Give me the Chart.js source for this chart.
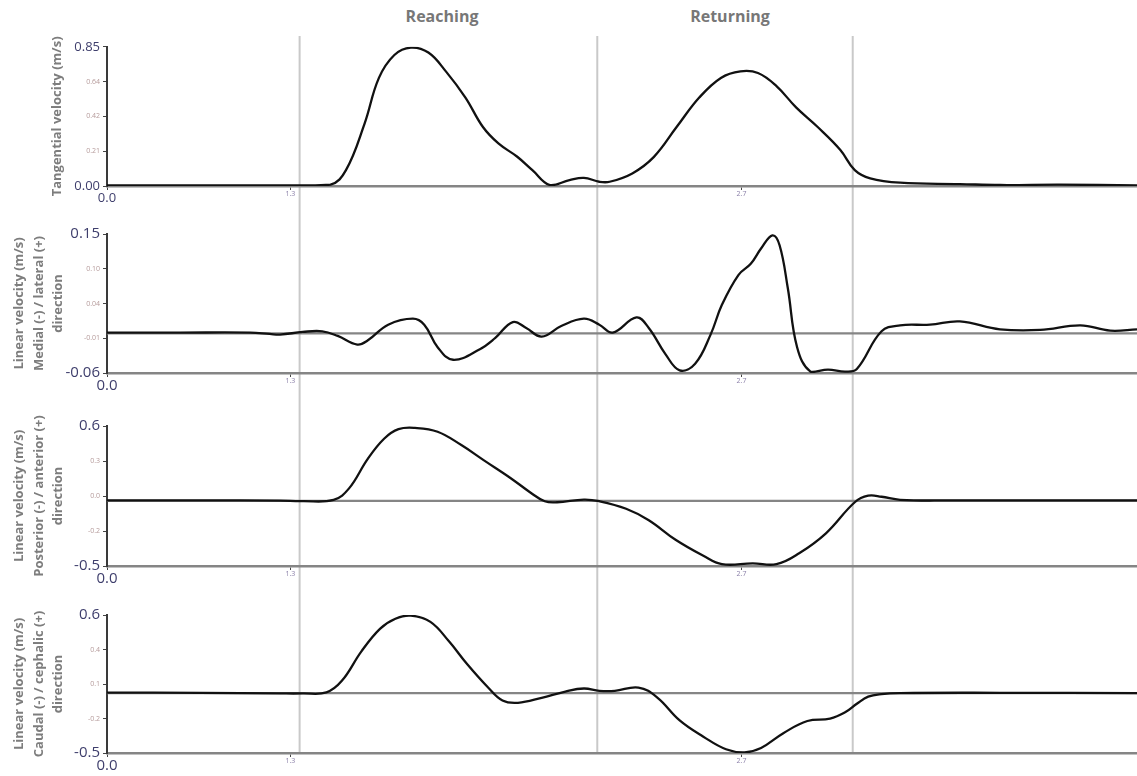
<!DOCTYPE html>
<html>
<head>
<meta charset="utf-8">
<script src="https://cdn.jsdelivr.net/npm/chart.js@4.4.0/dist/chart.umd.min.js"></script>
<style>
  html, body { margin: 0; padding: 0; background: #fff; overflow: hidden; }
  #wrap { position: relative; width: 1137px; height: 776px; font-family: 'Open Sans', sans-serif; }
  #wrap canvas { position: absolute; left: 0; }
  .phase { position: absolute; top: 5px; font-weight: 700; font-size: 16px; color: #777; transform: translateX(-50%); }
</style>
</head>
<body>
<div id="wrap">
  <canvas id="bounds" style="top:36px; z-index:0" width="1137" height="717"></canvas>
  <canvas id="chartjs-0" style="top:36px; z-index:1" width="1137" height="172"></canvas>
  <canvas id="chartjs-1" style="top:222px; z-index:1" width="1137" height="173"></canvas>
  <canvas id="chartjs-2" style="top:414px; z-index:1" width="1137" height="174"></canvas>
  <canvas id="chartjs-3" style="top:603px; z-index:1" width="1137" height="172"></canvas>
  <div class="phase" style="left:442px">Reaching</div>
  <div class="phase" style="left:730px">Returning</div>
</div>
<script>
/* time is given as % of the recording (0 - 100) */

/* phase borders: start reach, end reach / start return, end return */
var phaseBounds = [18.7, 47.6, 72.4];

/* x axis ticks (the labels the original software printed) */
var xTickVals = [0, 17.8, 61.6];
var xTickLabels = ["0.0", "1.3", "2.7"];

/* Panel 1 - tangential velocity */
var tanTime = [0, 9.0, 17.8, 21.7, 23.2, 25.0, 26.4, 27.9, 29.5, 31.2, 32.9, 34.8, 36.5, 38.0, 39.8, 41.3, 43.0, 44.9, 46.3, 47.8, 48.8, 51.0, 53.1, 55.3, 57.5, 59.6, 61.5, 63.2, 65.0, 66.9, 69.0, 71.2, 72.6, 74.1, 77.0, 82.8, 86.7, 92.5, 100];
var tanVel = [0.004, 0.004, 0.004, 0.008, 0.097, 0.38, 0.66, 0.80, 0.845, 0.815, 0.70, 0.54, 0.36, 0.26, 0.18, 0.097, 0.006, 0.036, 0.05, 0.026, 0.026, 0.077, 0.178, 0.36, 0.54, 0.66, 0.70, 0.69, 0.61, 0.48, 0.36, 0.22, 0.097, 0.047, 0.02, 0.012, 0.006, 0.008, 0.004];
var tanTicks = [0, 0.2125, 0.425, 0.6375, 0.85];
var tanTickLabels = ["0.00", "0.21", "0.42", "0.64", "0.85"];

/* Panel 2 - medial (-) / lateral (+) */
var mlTime = [0, 7.1, 13.9, 15.8, 16.8, 19.0, 20.9, 22.4, 24.3, 25.3, 27.3, 29.7, 30.8, 32.1, 33.6, 36.2, 37.7, 39.4, 40.7, 42.2, 44.1, 46.3, 47.8, 49.1, 51.4, 52.6, 54.2, 55.6, 57.1, 58.6, 59.7, 61.3, 62.5, 63.5, 64.6, 65.3, 66.1, 67.0, 68.3, 70.0, 71.7, 72.8, 75.2, 77.0, 79.9, 82.8, 86.7, 90.6, 94.5, 97.4, 100];
var mlVel = [0.001, 0.001, 0.001, -0.001, -0.002, 0.002, 0.003, -0.004, -0.017, -0.011, 0.013, 0.022, 0.013, -0.021, -0.040, -0.024, -0.007, 0.017, 0.008, -0.005, 0.011, 0.022, 0.013, 0.001, 0.024, 0.008, -0.031, -0.056, -0.046, -0.002, 0.043, 0.088, 0.105, 0.128, 0.148, 0.133, 0.068, -0.021, -0.058, -0.055, -0.058, -0.054, 0.003, 0.012, 0.013, 0.018, 0.006, 0.005, 0.012, 0.004, 0.006];
var mlTicks = [-0.06, -0.0075, 0.045, 0.0975, 0.15];
var mlTickLabels = ["-0.06", "-0.01", "0.04", "0.10", "0.15"];
var mlZero = 0;

/* Panel 3 - posterior (-) / anterior (+) */
var paTime = [0, 9.0, 16.8, 19.0, 22.0, 23.5, 25.3, 26.9, 28.3, 29.9, 32.1, 34.4, 36.6, 39.2, 41.1, 42.5, 43.7, 46.3, 47.8, 50.4, 52.6, 55.2, 57.9, 59.7, 62.7, 65.0, 67.2, 69.8, 72.6, 73.9, 75.2, 77.0, 81.8, 86.7, 100];
var paVel = [0.015, 0.016, 0.014, 0.01, 0.02, 0.11, 0.34, 0.50, 0.575, 0.585, 0.555, 0.45, 0.33, 0.19, 0.078, 0.009, 0.001, 0.022, 0.009, -0.05, -0.14, -0.294, -0.42, -0.486, -0.48, -0.486, -0.40, -0.243, 0.001, 0.052, 0.044, 0.02, 0.015, 0.016, 0.015];
var paTicks = [-0.5, -0.225, 0.05, 0.325, 0.6];
var paTickLabels = ["-0.5", "-0.2", "0.0", "0.3", "0.6"];
var paZero = 0.012;

/* Panel 4 - caudal (-) / cephalic (+) */
var ccTime = [0, 9.0, 16.8, 19.0, 21.3, 22.8, 24.7, 26.5, 28.0, 29.5, 31.4, 33.2, 35.0, 37.0, 38.4, 39.9, 42.2, 44.5, 46.3, 47.8, 49.3, 51.6, 53.4, 55.6, 57.9, 60.1, 61.9, 63.5, 65.7, 68.0, 70.2, 71.7, 72.8, 73.9, 75.2, 77.0, 86.7, 100];
var ccVel = [-0.018, -0.02, -0.025, -0.025, -0.017, 0.075, 0.31, 0.49, 0.57, 0.595, 0.545, 0.39, 0.205, 0.022, -0.082, -0.10, -0.06, -0.01, 0.014, -0.004, -0.004, 0.022, -0.056, -0.24, -0.37, -0.47, -0.495, -0.46, -0.34, -0.245, -0.226, -0.174, -0.108, -0.051, -0.03, -0.022, -0.02, -0.022];
var ccTicks = [-0.5, -0.225, 0.05, 0.325, 0.6];
var ccTickLabels = ["-0.5", "-0.2", "0.1", "0.4", "0.6"];
var ccZero = -0.022;

Chart.defaults.font.family = "'Open Sans', sans-serif";
Chart.defaults.animation = false;

var darkLabel = "#3e3e6c";
var faintLabel = "#b59a9a";

function toPoints(xs, ys) {
  var pts = [];
  for (i = 0; i < xs.length; i++) {
    pts.push({ x: xs[i], y: ys[i] });
  }
  return pts;
}

function makePanel(id, times, values, zero, yTicks, yLabels, title, titlePad, bigSize) {
  var datasets = [
    {
      data: toPoints(times, values),
      borderColor: "#111",
      borderWidth: 2.3,
      pointRadius: 0,
      fill: false,
      tension: 0.4,
      order: 0,
    },
  ];
  if (zero !== null) {
    datasets.push({
      data: [{ x: 0, y: zero }, { x: 100, y: zero }],
      borderColor: "#858585",
      borderWidth: 2.2,
      pointRadius: 0,
      fill: false,
      order: 1,
    });
  }
  return new Chart(document.getElementById(id), {
    type: "line",
    data: { datasets: datasets },
    options: {
      responsive: false,
      layout: { padding: { top: 10, right: 0, left: 0, bottom: 0 } },
      plugins: { legend: { display: false }, tooltip: { enabled: false } },
      scales: {
        x: {
          type: "linear",
          min: 0,
          max: 100,
          afterFit: function (s) { s.height = 22; },
          afterBuildTicks: function (s) {
            s.ticks = xTickVals.map(function (v) { return { value: v }; });
          },
          ticks: {
            autoSkip: false,
            maxRotation: 0,
            padding: 0,
            callback: function (v, i) { return xTickLabels[i]; },
            color: function (c) { return c.index === 0 ? darkLabel : "#8a7fa8"; },
            font: function (c) { return c.index === 0 ? { size: bigSize } : { size: 7 }; },
          },
          grid: { drawOnChartArea: false, drawTicks: true, tickLength: 4, color: "#444" },
          border: { display: true, color: "#858585", width: 2.5 },
        },
        y: {
          type: "linear",
          min: yTicks[0],
          max: yTicks[yTicks.length - 1],
          afterFit: function (s) { s.width = 107; },
          afterBuildTicks: function (s) {
            s.ticks = yTicks.map(function (v) { return { value: v }; });
          },
          ticks: {
            autoSkip: false,
            padding: 3,
            callback: function (v, i) { return yLabels[i]; },
            color: function (c) { return c.index === 0 || c.index === 4 ? darkLabel : faintLabel; },
            font: function (c) { return c.index === 0 || c.index === 4 ? { size: bigSize } : { size: 7 }; },
          },
          grid: { drawOnChartArea: false, drawTicks: true, tickLength: 4, color: "#444" },
          border: { display: true, color: "#3a3a3a", width: 2 },
          title: {
            display: true,
            text: title,
            color: "#7d7d7d",
            font: { size: 13, weight: "bold", lineHeight: 1.5 },
            padding: { top: titlePad, bottom: 0 },
          },
        },
      },
    },
  });
}

/* vertical phase lines across all four panels */
new Chart(document.getElementById("bounds"), {
  type: "line",
  data: {
    datasets: phaseBounds.map(function (b) {
      return {
        data: [{ x: b, y: 0 }, { x: b, y: 1 }],
        borderColor: "#c9c9c9",
        borderWidth: 2,
        pointRadius: 0,
        fill: false,
      };
    }),
  },
  options: {
    responsive: false,
    layout: { padding: { left: 107, right: 0, top: 0, bottom: 0 } },
    plugins: { legend: { display: false }, tooltip: { enabled: false } },
    scales: {
      x: { type: "linear", min: 0, max: 100, display: false },
      y: { min: 0, max: 1, display: false },
    },
  },
});

makePanel("chartjs-0", tanTime, tanVel, null, tanTicks, tanTickLabels,
  "Tangential velocity (m/s)", 48, 13);
makePanel("chartjs-1", mlTime, mlVel, mlZero, mlTicks, mlTickLabels,
  ["Linear velocity (m/s)", "Medial (-) / lateral (+)", "direction"], 10, 15);
makePanel("chartjs-2", paTime, paVel, paZero, paTicks, paTickLabels,
  ["Linear velocity (m/s)", "Posterior (-) / anterior (+)", "direction"], 10, 15);
makePanel("chartjs-3", ccTime, ccVel, ccZero, ccTicks, ccTickLabels,
  ["Linear velocity (m/s)", "Caudal (-) / cephalic (+)", "direction"], 10, 15);
</script>
</body>
</html>
